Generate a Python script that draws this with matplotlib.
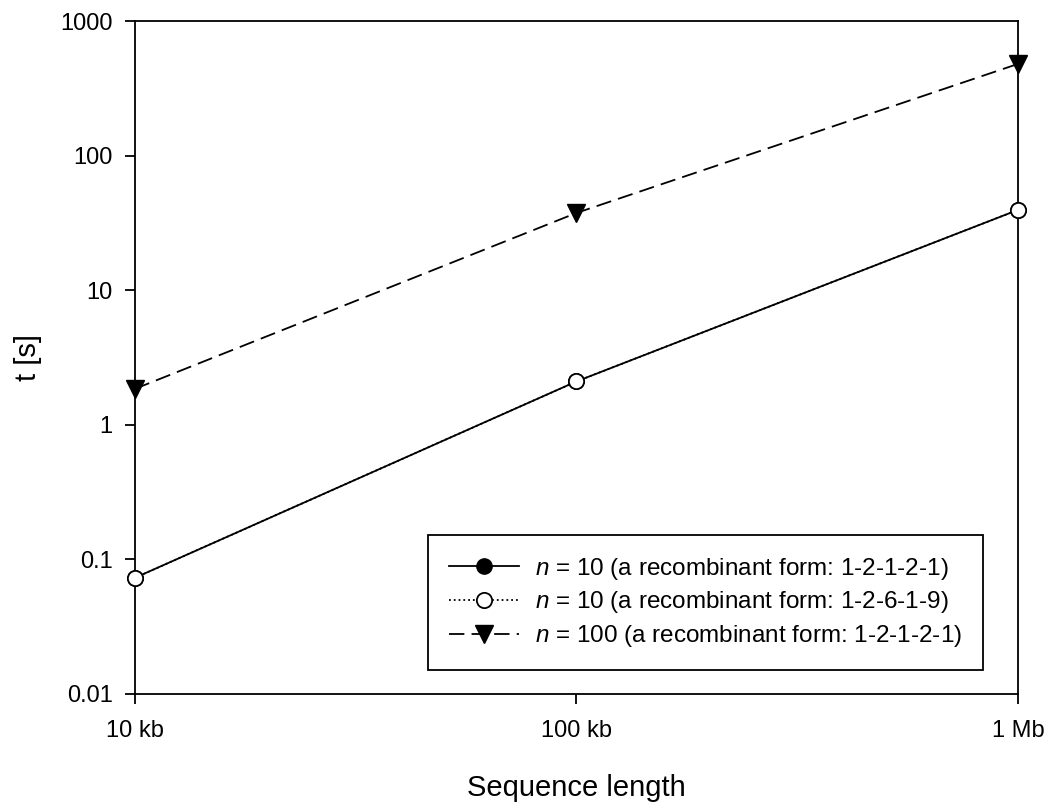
import matplotlib
matplotlib.use("Agg")
import matplotlib.pyplot as plt
from matplotlib.ticker import FixedLocator, FixedFormatter, NullLocator

plt.rcParams["font.family"] = ["Liberation Sans", "DejaVu Sans"]
plt.rcParams["mathtext.fontset"] = "custom"
plt.rcParams["mathtext.it"] = "Liberation Sans:italic"
plt.rcParams["mathtext.rm"] = "Liberation Sans"

# ── Data ──────────────────────────────────────────────────────────────────────
seq_len = [1e4, 1e5, 1e6]
x_tick_labels = ["10 kb", "100 kb", "1 Mb"]
t_n10_12121 = [0.073, 2.1, 39.5]
t_n10_12619 = [0.073, 2.1, 39.5]
t_n100_12121 = [1.85, 37.5, 480]
y_ticks = [0.01, 0.1, 1, 10, 100, 1000]
y_tick_labels = ["0.01", "0.1", "1", "10", "100", "1000"]

labels = [
    r"$\it{n}$ = 10 (a recombinant form: 1-2-1-2-1)",
    r"$\it{n}$ = 10 (a recombinant form: 1-2-6-1-9)",
    r"$\it{n}$ = 100 (a recombinant form: 1-2-1-2-1)",
]

# ── Figure ────────────────────────────────────────────────────────────────────
fig = plt.figure(figsize=(10.51, 8.05), dpi=100)
ax = fig.add_axes([0.1284, 0.1379, 0.8402, 0.836])

ax.plot(seq_len, t_n10_12121, "-", color="black", lw=1.3,
        marker="o", ms=11, mfc="black", mec="black", label=labels[0], zorder=3)
ax.plot(seq_len, t_n10_12619, ":", color="black", lw=1.3,
        marker="o", ms=11, mfc="white", mec="black", mew=1.3, label=labels[1], zorder=4)
ax.plot(seq_len, t_n100_12121, "--", color="black", lw=1.3, dashes=(8.5, 4),
        marker="v", ms=12.5, mfc="black", mec="black", label=labels[2], zorder=3)

ax.set_xscale("log")
ax.set_yscale("log")
ax.set_xlim(1e4, 1e6)
ax.set_ylim(0.01, 1000)

ax.xaxis.set_major_locator(FixedLocator(seq_len))
ax.xaxis.set_major_formatter(FixedFormatter(x_tick_labels))
ax.xaxis.set_minor_locator(NullLocator())
ax.yaxis.set_major_locator(FixedLocator(y_ticks))
ax.yaxis.set_major_formatter(FixedFormatter(y_tick_labels))
ax.yaxis.set_minor_locator(NullLocator())

ax.tick_params(direction="out", length=7, width=1.3, labelsize=17)
ax.tick_params(axis="x", pad=12)
ax.tick_params(axis="y", pad=9)
for s in ax.spines.values():
    s.set_linewidth(1.3)

ax.set_xlabel("Sequence length", fontsize=21, labelpad=23)
ax.set_ylabel("t [s]", fontsize=21, labelpad=13)

for line in ax.get_lines():
    line.set_clip_on(False)

leg = ax.legend(loc="lower right", bbox_to_anchor=(0.960, 0.036), fontsize=17.5,
                frameon=True, fancybox=False, edgecolor="black", framealpha=1,
                handlelength=2.9, borderpad=0.85, labelspacing=0.32,
                handletextpad=0.65, borderaxespad=0)
leg.get_frame().set_linewidth(1.3)

fig.savefig("out.png", dpi=100)
